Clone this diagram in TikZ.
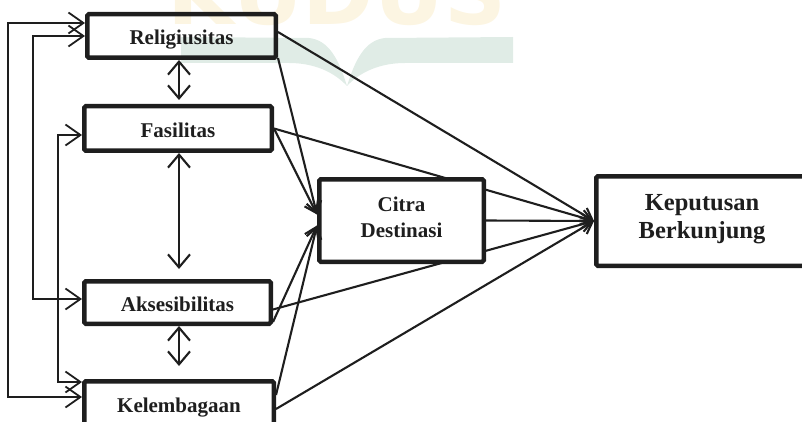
\documentclass[tikz,border=0pt]{standalone}
\usepackage{fontspec}
\setmainfont{Liberation Serif}
\newfontfamily\wmfont{DejaVu Sans}
\usetikzlibrary{arrows.meta,calc}
\pgfdeclarelayer{bg}
\pgfsetlayers{bg,main}
\definecolor{ink}{RGB}{30,30,30}
\definecolor{wmyellow}{RGB}{252,245,226}
\definecolor{wmteal}{RGB}{224,236,230}
\begin{document}
\begin{tikzpicture}[x=1pt,y=-1pt,
  box/.style={draw=ink, line width=4.5pt, rounded corners=1.5pt, inner sep=0pt,
    font=\bfseries\fontsize{21}{26}\selectfont, text=ink,
    text height=20pt, text depth=2pt},
  bigbox/.style={draw=ink, line width=4.5pt, rounded corners=1.5pt, inner sep=0pt},
  boxlbl/.style={inner sep=0pt, align=center, text=ink},
  link/.style={draw=ink, line width=2.1pt, -{Straight Barb[length=11pt,width=15pt]}},
  fbk/.style={draw=ink, line width=1.8pt,
    {Straight Barb[length=15pt,width=21pt]}-{Straight Barb[length=15pt,width=21pt]}},
  both/.style={draw=ink, line width=2.1pt,
    {Straight Barb[length=13pt,width=22pt]}-{Straight Barb[length=13pt,width=22pt]}}]

\clip (0,0) rectangle (802,422);

% exogenous constructs
\node[box, minimum width=188.5pt, minimum height=43.5pt] (rel) at (181.5,36) {Religiusitas};
\node[box, minimum width=187.5pt, minimum height=44.5pt] (fas) at (178,128.5) {Fasilitas};
\node[box, minimum width=186.5pt, minimum height=42.5pt] (aks) at (177.5,302.5) {Aksesibilitas};
\node[box, minimum width=189.5pt, minimum height=43.5pt] (kel) at (179,403) {Kelembagaan};

% mediator and outcome
\node[bigbox, fill=white, minimum width=164.5pt, minimum height=82.5pt] (cit) at (401.5,220.5) {};
\node[boxlbl, font=\bfseries\fontsize{21}{26}\selectfont] (citlbl) at (401.5,217) {Citra\\Destinasi};
\node[bigbox, minimum width=211.5pt, minimum height=89.5pt] (kep) at (702,221) {};
\node[boxlbl, font=\bfseries\fontsize{24.5}{28}\selectfont] (keplbl) at (702,219.5) {Keputusan\\Berkunjung};

% watermark and the paths running behind the mediator
\begin{pgfonlayer}{bg}
  \node[inner sep=0pt, anchor=base, text=wmyellow,
        font=\wmfont\bfseries\fontsize{86}{86}\selectfont] (wm) at (337,25) {KUDUS};
  \fill[wmteal] (347,86) .. controls (355,60) and (365,40) .. (385,38) -- (513,37)
     -- (513,63) -- (405,63) .. controls (380,63) and (360,72) .. (347,86) -- cycle;
  \fill[wmteal] (347,86) .. controls (339,60) and (329,40) .. (309,38) -- (181,37)
     -- (181,63) -- (289,63) .. controls (314,63) and (334,72) .. (347,86) -- cycle;
  \draw[link] (fas.east) -- (kep.west);
  \draw[link] ([yshift=-7pt]aks.east) -- (kep.west);
\end{pgfonlayer}

% correlations between the exogenous constructs
\coordinate (mid) at (179,0);
\draw[both, shorten >=4pt] (rel.south -| mid) -- (fas.north -| mid);
\draw[both, shorten >=10pt] (fas.south -| mid) -- (aks.north -| mid);
\draw[both, shorten >=13pt] (aks.south -| mid) -- (kel.north -| mid);

\coordinate (fa1) at (8,23);  \coordinate (fa2) at (8,397);
\coordinate (fb1) at (33,36); \coordinate (fb2) at (33,299);
\coordinate (fc1) at (58,135); \coordinate (fc2) at (58,382);
\draw[fbk] (rel.west |- fa1) -- (fa1) -- (fa2) -- (kel.west |- fa2);
\draw[fbk] (rel.west |- fb1) -- (fb1) -- (fb2) -- (aks.west |- fb2);
\draw[fbk] (fas.west |- fc1) -- (fc1) -- (fc2) -- (kel.west |- fc2);

% structural paths
\draw[link] ([yshift=4pt]rel.east) -- (kep.west);
\draw[link] ([yshift=2pt]rel.south east) -- ([yshift=6pt]cit.west);
\draw[link] (fas.east) -- ([yshift=6pt]cit.west);
\draw[link] ([yshift=4pt]aks.south east) -- ([yshift=-5pt]cit.west);
\draw[link] ([yshift=8pt]kel.east) -- ([yshift=-5pt]cit.west);
\draw[link] ([yshift=-6pt]kel.east) -- (kep.west);
\draw[link] (cit.east) -- (kep.west);
\end{tikzpicture}
\end{document}
